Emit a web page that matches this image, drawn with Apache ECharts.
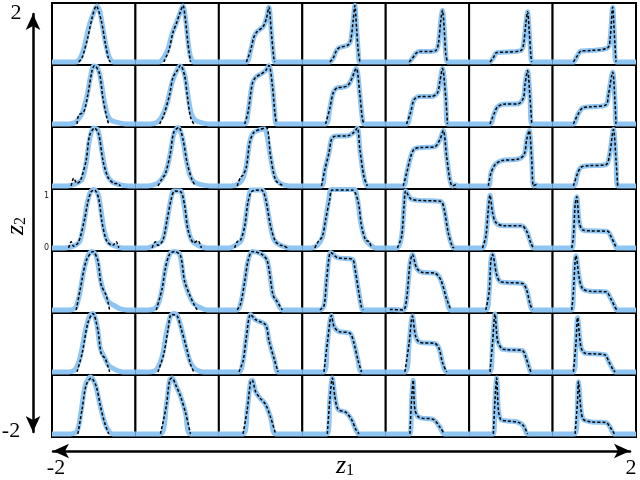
<!DOCTYPE html>
<html>
<head>
<meta charset="utf-8">
<script src="https://cdn.jsdelivr.net/npm/echarts@6/dist/echarts.min.js"></script>
<style>
  html, body { margin: 0; padding: 0; background: #fff; }
  #chart { width: 640px; height: 480px; }
</style>
</head>
<body>
<div id="chart"></div>
<script>
// panels: rows from z2 = 2 (top) to z2 = -2 (bottom), columns from z1 = -2 to z1 = 2
// each curve is a list of [x, density] points, x runs 0..1 across one panel

// dashed (target) curves, one array per row
var row1 = [
  [[0.32,0],[0.36,0.08],[0.43,0.48],[0.48,0.85],[0.53,1.08],[0.59,0.8],[0.64,0.35],[0.68,0.05],[0.70,0]],
  [[0.34,0],[0.40,0.22],[0.45,0.57],[0.49,0.74],[0.53,0.93],[0.57,1.09],[0.60,0.80],[0.63,0.35],[0.66,0]],
  [[0.33,0],[0.38,0.22],[0.42,0.48],[0.46,0.59],[0.53,0.68],[0.57,0.84],[0.60,1.06],[0.63,0.55],[0.66,0.05],[0.67,0]],
  [[0.33,0],[0.37,0.07],[0.41,0.22],[0.45,0.28],[0.50,0.30],[0.55,0.33],[0.58,0.41],[0.61,0.80],[0.63,1.09],[0.65,0.67],[0.67,0.22],[0.69,0]],
  [[0.28,0],[0.32,0.07],[0.36,0.16],[0.40,0.20],[0.50,0.20],[0.60,0.22],[0.63,0.34],[0.66,0.80],[0.68,1.0],[0.70,0.67],[0.72,0.15],[0.74,0]],
  [[0.25,0],[0.29,0.08],[0.33,0.18],[0.45,0.19],[0.62,0.22],[0.65,0.32],[0.68,0.75],[0.70,0.97],[0.72,0.6],[0.74,0.12],[0.75,0]],
  [[0.25,0],[0.29,0.1],[0.34,0.21],[0.45,0.22],[0.66,0.27],[0.69,0.45],[0.72,1.06],[0.74,0.55],[0.76,0]]
];
var row2 = [
  [[0.30,0],[0.32,0.17],[0.38,0.23],[0.43,0.57],[0.48,1.03],[0.51,1.13],[0.57,0.97],[0.61,0.5],[0.66,0.1],[0.68,0]],
  [[0.29,0],[0.34,0.17],[0.41,0.57],[0.45,0.9],[0.50,1.03],[0.54,1.13],[0.59,0.93],[0.62,0.57],[0.66,0.13],[0.70,0]],
  [[0.31,0],[0.35,0.23],[0.40,0.77],[0.44,0.9],[0.51,0.97],[0.56,1.03],[0.60,1.13],[0.64,0.77],[0.67,0.23],[0.69,0]],
  [[0.28,0],[0.33,0.3],[0.37,0.6],[0.42,0.7],[0.48,0.71],[0.55,0.75],[0.60,0.9],[0.63,1.03],[0.65,1.07],[0.69,0.57],[0.72,0.1],[0.74,0]],
  [[0.25,0],[0.30,0.23],[0.34,0.47],[0.41,0.53],[0.55,0.53],[0.62,0.6],[0.65,0.83],[0.68,1.07],[0.72,0.5],[0.74,0]],
  [[0.25,0],[0.30,0.2],[0.34,0.33],[0.41,0.38],[0.59,0.39],[0.65,0.5],[0.67,0.77],[0.70,1.03],[0.73,0.5],[0.75,0]],
  [[0.25,0],[0.30,0.17],[0.36,0.31],[0.45,0.33],[0.64,0.37],[0.67,0.57],[0.72,1.0],[0.75,0.37],[0.76,0]]
];
var row3 = [
  [[0.23,0],[0.26,0.15],[0.30,0.05],[0.34,0.1],[0.41,0.5],[0.45,0.97],[0.51,1.12],[0.56,1.0],[0.61,0.5],[0.67,0.17],[0.74,0.05],[0.79,0.04],[0.82,0]],
  [[0.27,0],[0.32,0.14],[0.36,0.24],[0.42,0.64],[0.46,1.04],[0.52,1.13],[0.57,0.9],[0.62,0.44],[0.68,0.11],[0.72,0]],
  [[0.22,0],[0.26,0.17],[0.29,0.21],[0.33,0.37],[0.37,0.84],[0.42,1.04],[0.49,1.09],[0.57,1.13],[0.62,0.57],[0.68,0.11],[0.74,0.03],[0.78,0]],
  [[0.23,0],[0.27,0.31],[0.32,0.64],[0.35,0.9],[0.39,0.96],[0.55,0.97],[0.62,1.04],[0.66,1.12],[0.69,0.71],[0.74,0.17],[0.78,0]],
  [[0.21,0],[0.25,0.24],[0.30,0.57],[0.34,0.71],[0.41,0.74],[0.59,0.76],[0.65,0.9],[0.69,1.07],[0.73,0.57],[0.77,0.11],[0.80,0],[0.84,0.02],[0.86,0]],
  [[0.23,0],[0.26,0.24],[0.31,0.41],[0.39,0.49],[0.59,0.52],[0.66,0.61],[0.69,0.9],[0.72,1.07],[0.75,0.51],[0.77,0],[0.80,0.02],[0.82,0]],
  [[0.25,0],[0.30,0.24],[0.34,0.36],[0.43,0.39],[0.64,0.41],[0.68,0.57],[0.73,1.09],[0.76,0.51],[0.78,0]]
];
var row4 = [
  [[0.20,0],[0.23,0.12],[0.26,0.03],[0.32,0.12],[0.39,0.55],[0.43,0.89],[0.47,1.09],[0.51,1.12],[0.56,0.95],[0.60,0.49],[0.66,0.12],[0.73,0.05],[0.77,0.12],[0.80,0]],
  [[0.20,0],[0.24,0.12],[0.27,0.05],[0.33,0.15],[0.38,0.55],[0.43,0.95],[0.47,1.1],[0.54,1.09],[0.59,0.82],[0.63,0.35],[0.70,0.1],[0.75,0.14],[0.79,0]],
  [[0.19,0],[0.22,0.12],[0.26,0.15],[0.31,0.42],[0.35,0.89],[0.40,1.1],[0.51,1.12],[0.56,0.95],[0.62,0.42],[0.68,0.12],[0.74,0.05],[0.78,0.04],[0.82,0]],
  [[0.15,0],[0.19,0.12],[0.24,0.22],[0.28,0.55],[0.33,0.95],[0.36,1.12],[0.60,1.12],[0.67,0.89],[0.71,0.42],[0.76,0.15],[0.80,0.12],[0.83,0]],
  [[0.14,0],[0.19,0.22],[0.22,0.82],[0.24,1.1],[0.30,0.95],[0.39,0.92],[0.66,0.9],[0.70,0.75],[0.75,0.29],[0.80,0.02],[0.82,0]],
  [[0.16,0],[0.20,0.22],[0.23,0.75],[0.25,1.02],[0.28,0.69],[0.32,0.49],[0.41,0.43],[0.63,0.43],[0.69,0.32],[0.74,0.09],[0.77,0]],
  [[0.23,0],[0.25,0.22],[0.27,0.82],[0.29,0.99],[0.32,0.49],[0.36,0.35],[0.45,0.33],[0.66,0.32],[0.70,0.22],[0.75,0.05],[0.77,0]]
];
var row5 = [
  [[0.29,0],[0.34,0.41],[0.41,0.95],[0.49,1.13],[0.55,0.95],[0.59,0.48],[0.65,0.28],[0.69,0]],
  [[0.25,0],[0.32,0.41],[0.36,0.81],[0.41,1.08],[0.47,1.13],[0.54,1.05],[0.59,0.55],[0.66,0.25],[0.71,0.08],[0.74,0]],
  [[0.22,0],[0.26,0.11],[0.31,0.55],[0.35,0.95],[0.40,1.13],[0.51,1.08],[0.58,0.95],[0.65,0.28],[0.69,0.18],[0.76,0]],
  [[0.21,0],[0.26,0.08],[0.29,0.55],[0.32,1.01],[0.34,1.11],[0.42,1.01],[0.60,0.98],[0.63,0.81],[0.67,0.41],[0.71,0.05],[0.73,0]],
  [[0.05,0.01],[0.21,0],[0.25,0.21],[0.29,0.88],[0.32,1.07],[0.37,0.81],[0.43,0.73],[0.59,0.71],[0.66,0.58],[0.73,0.21],[0.78,0]],
  [[0.20,0],[0.24,0.35],[0.26,0.95],[0.28,1.07],[0.33,0.68],[0.37,0.55],[0.45,0.53],[0.64,0.51],[0.69,0.38],[0.73,0.11],[0.76,0]],
  [[0.23,0],[0.25,0.35],[0.27,0.95],[0.28,1.05],[0.32,0.61],[0.36,0.41],[0.45,0.36],[0.64,0.35],[0.70,0.21],[0.75,0.05],[0.77,0]]
];
var row6 = [
  [[0.30,0],[0.36,0.35],[0.43,0.95],[0.49,1.13],[0.55,0.81],[0.59,0.35],[0.64,0.25],[0.69,0]],
  [[0.27,0],[0.34,0.35],[0.39,0.81],[0.43,1.11],[0.50,1.08],[0.54,0.88],[0.61,0.48],[0.66,0.15],[0.70,0]],
  [[0.24,0],[0.29,0.21],[0.33,0.68],[0.38,1.11],[0.44,1.01],[0.56,0.91],[0.60,0.61],[0.67,0.21],[0.71,0]],
  [[0.26,0],[0.30,0.55],[0.35,1.09],[0.38,0.88],[0.44,0.78],[0.57,0.75],[0.62,0.55],[0.67,0.21],[0.71,0]],
  [[0.23,0],[0.28,0.55],[0.32,1.08],[0.36,0.68],[0.41,0.57],[0.59,0.55],[0.64,0.45],[0.68,0.18],[0.73,0]],
  [[0.25,0],[0.28,0.55],[0.31,1.12],[0.34,0.61],[0.39,0.45],[0.45,0.43],[0.64,0.41],[0.68,0.28],[0.72,0.08],[0.74,0]],
  [[0.25,0],[0.28,0.55],[0.30,1.05],[0.34,0.48],[0.39,0.36],[0.50,0.35],[0.63,0.33],[0.67,0.21],[0.73,0.03],[0.75,0]]
];
var row7 = [
  [[0.31,0],[0.36,0.47],[0.41,0.95],[0.47,1.08],[0.53,0.92],[0.58,0.54],[0.63,0.22],[0.68,0]],
  [[0.30,0],[0.37,0.54],[0.41,1.04],[0.44,1.08],[0.49,0.92],[0.54,0.73],[0.60,0.41],[0.66,0]],
  [[0.29,0],[0.34,0.47],[0.38,1.01],[0.40,1.04],[0.44,0.82],[0.49,0.70],[0.56,0.57],[0.62,0.32],[0.68,0]],
  [[0.30,0],[0.33,0.66],[0.36,1.08],[0.39,0.73],[0.43,0.47],[0.52,0.42],[0.59,0.28],[0.64,0.09],[0.68,0]],
  [[0.29,0],[0.31,0.66],[0.33,1.04],[0.35,0.47],[0.40,0.32],[0.57,0.28],[0.65,0.13],[0.70,0]],
  [[0.29,0],[0.31,0.66],[0.33,1.08],[0.35,0.47],[0.38,0.28],[0.46,0.25],[0.58,0.23],[0.65,0.16],[0.70,0]],
  [[0.27,0],[0.30,0.66],[0.31,1.01],[0.34,0.47],[0.37,0.28],[0.47,0.23],[0.64,0.22],[0.69,0.13],[0.74,0]]
];

// blue (fit) curves where they differ from the dashed ones; null = same curve plus flat baseline
var row1Fit = [
  [[0,0],[0.28,0],[0.33,0.05],[0.38,0.25],[0.43,0.6],[0.46,0.78],[0.50,0.95],[0.54,1.08],[0.57,1.0],[0.61,0.65],[0.65,0.3],[0.69,0.08],[0.74,0],[1,0]],
  [[0,0],[0.28,0],[0.33,0.06],[0.39,0.25],[0.44,0.55],[0.49,0.75],[0.53,0.93],[0.57,1.08],[0.60,0.85],[0.63,0.4],[0.66,0.1],[0.70,0],[1,0]],
  null, null, null, null, null
];
var row2Fit = [
  [[0,0],[0.20,0],[0.27,0.02],[0.31,0.08],[0.36,0.2],[0.42,0.55],[0.46,0.9],[0.50,1.12],[0.54,1.1],[0.58,0.9],[0.62,0.5],[0.66,0.2],[0.70,0.08],[0.78,0.03],[0.88,0],[1,0]],
  [[0,0],[0.18,0],[0.26,0.03],[0.32,0.15],[0.38,0.4],[0.44,0.8],[0.50,1.05],[0.54,1.12],[0.59,0.95],[0.63,0.55],[0.67,0.2],[0.72,0.07],[0.80,0.02],[0.88,0],[1,0]],
  null, null, null, null, null
];
var row3Fit = [
  [[0,0],[0.18,0],[0.28,0.04],[0.36,0.12],[0.41,0.45],[0.45,0.9],[0.50,1.12],[0.55,1.08],[0.60,0.65],[0.65,0.25],[0.72,0.08],[0.82,0.02],[0.92,0],[1,0]],
  [[0,0],[0.15,0],[0.24,0.03],[0.31,0.12],[0.37,0.3],[0.42,0.65],[0.46,1.0],[0.51,1.13],[0.56,0.95],[0.61,0.5],[0.66,0.18],[0.72,0.06],[0.80,0.02],[0.90,0],[1,0]],
  [[0,0],[0.15,0],[0.24,0.05],[0.29,0.15],[0.33,0.4],[0.37,0.85],[0.41,1.02],[0.48,1.08],[0.55,1.1],[0.58,0.95],[0.62,0.55],[0.67,0.18],[0.73,0.05],[0.80,0.01],[0.85,0],[1,0]],
  null, null, null, null
];
var row4Fit = [
  [[0,0],[0.15,0],[0.25,0.03],[0.33,0.12],[0.38,0.45],[0.42,0.85],[0.46,1.08],[0.50,1.13],[0.55,1.05],[0.59,0.7],[0.63,0.3],[0.68,0.1],[0.75,0.04],[0.85,0],[1,0]],
  [[0,0],[0.13,0],[0.22,0.04],[0.32,0.14],[0.37,0.45],[0.42,0.9],[0.46,1.1],[0.54,1.1],[0.58,0.85],[0.62,0.45],[0.67,0.16],[0.74,0.06],[0.85,0],[1,0]],
  [[0,0],[0.12,0],[0.20,0.05],[0.27,0.15],[0.31,0.45],[0.35,0.9],[0.39,1.12],[0.52,1.12],[0.56,0.95],[0.61,0.5],[0.66,0.16],[0.74,0.05],[0.85,0],[1,0]],
  [[0,0],[0.10,0],[0.18,0.05],[0.24,0.2],[0.28,0.55],[0.32,0.95],[0.35,1.13],[0.62,1.13],[0.66,0.95],[0.70,0.5],[0.75,0.18],[0.80,0.08],[0.88,0],[1,0]],
  null, null, null
];
var row5Fit = [
  [[0,0],[0.20,0],[0.28,0.04],[0.33,0.3],[0.38,0.75],[0.43,1.05],[0.48,1.13],[0.53,1.05],[0.58,0.6],[0.62,0.35],[0.68,0.15],[0.75,0.08],[0.82,0.02],[0.90,0],[1,0]],
  [[0,0],[0.15,0],[0.24,0.03],[0.30,0.25],[0.36,0.8],[0.41,1.08],[0.46,1.13],[0.53,1.08],[0.58,0.6],[0.64,0.3],[0.70,0.12],[0.78,0.04],[0.86,0],[1,0]],
  null, null, null, null, null
];
var row6Fit = [
  [[0,0],[0.20,0],[0.28,0.05],[0.34,0.3],[0.40,0.8],[0.45,1.08],[0.49,1.13],[0.54,0.9],[0.58,0.45],[0.63,0.28],[0.68,0.12],[0.75,0.05],[0.85,0],[1,0]],
  [[0,0],[0.15,0],[0.25,0.04],[0.32,0.3],[0.37,0.75],[0.42,1.08],[0.46,1.13],[0.50,1.1],[0.55,0.85],[0.60,0.5],[0.66,0.18],[0.72,0.05],[0.82,0],[1,0]],
  null, null, null, null, null
];
var row7Fit = [
  [[0,0],[0.22,0],[0.30,0.05],[0.35,0.45],[0.40,0.95],[0.46,1.1],[0.52,0.95],[0.57,0.6],[0.62,0.28],[0.67,0.08],[0.73,0],[1,0]],
  null, null, null, null, null, null
];

var targets = [row1, row2, row3, row4, row5, row6, row7];
var fits = [row1Fit, row2Fit, row3Fit, row4Fit, row5Fit, row6Fit, row7Fit];

var myChart = echarts.init(document.getElementById('chart'));

var left0 = 52, top0 = 3;
var cellW = 584 / 7, cellH = 434 / 7;
var grids = [], xAxes = [], yAxes = [], series = [];

targets.forEach(function (row, r) {
  row.forEach(function (target, c) {
    var i = grids.length;
    grids.push({
      show: true,
      left: left0 + c * cellW,
      top: top0 + r * cellH,
      width: cellW,
      height: cellH,
      borderColor: '#000',
      borderWidth: 2,
      backgroundColor: '#fff'
    });
    xAxes.push({ gridIndex: i, type: 'value', min: 0, max: 1, show: false });
    // only the middle panel of the first column shows its 0 / 1 labels
    var labelled = r === 3 && c === 0;
    yAxes.push({
      gridIndex: i,
      type: 'value',
      min: -0.06,
      max: 1.14,
      show: labelled,
      axisLine: { show: false },
      axisTick: { show: false },
      splitLine: { show: false },
      axisLabel: { customValues: [0, 1], fontSize: 8, margin: 3, color: '#222', fontFamily: 'DejaVu Sans' }
    });
    var fit = fits[r][c] || [[0, 0]].concat(target, [[1, 0]]);
    series.push({
      type: 'line',
      xAxisIndex: i,
      yAxisIndex: i,
      data: fit,
      symbol: 'none',
      smooth: 0.3,
      lineStyle: { color: '#8ec5f2', width: 5 },
      z: 2
    });
    series.push({
      type: 'line',
      xAxisIndex: i,
      yAxisIndex: i,
      data: target,
      symbol: 'none',
      smooth: 0.3,
      lineStyle: { color: '#000', width: 1.5, type: [3, 2] },
      z: 3
    });
  });
});

// big double arrows for z1 (bottom) and z2 (left)
var n = grids.length;
grids.push({ left: 53, width: 577, top: 440, height: 11 });
xAxes.push({
  gridIndex: n, type: 'value', min: -2, max: 2, position: 'bottom',
  axisLine: { onZero: false, symbol: ['arrow', 'arrow'], symbolSize: [11, 16], lineStyle: { color: '#000', width: 2.5 } },
  axisTick: { show: false }, axisLabel: { show: false }, splitLine: { show: false }
});
yAxes.push({ gridIndex: n, type: 'value', show: false });

grids.push({ left: 33, width: 10, top: 14, height: 418 });
xAxes.push({ gridIndex: n + 1, type: 'value', show: false });
yAxes.push({
  gridIndex: n + 1, type: 'value', min: -2, max: 2, position: 'left',
  axisLine: { onZero: false, symbol: ['arrow', 'arrow'], symbolSize: [11, 16], lineStyle: { color: '#000', width: 2.5 } },
  axisTick: { show: false }, axisLabel: { show: false }, splitLine: { show: false }
});

var serif = 'Liberation Serif';
function label(text, x, y, size) {
  return {
    type: 'text', x: x, y: y, z: 100,
    style: { text: text, fontFamily: serif, fontSize: size, fill: '#000', textAlign: 'center', textVerticalAlign: 'middle' }
  };
}

var option = {
  animation: false,
  backgroundColor: '#fff',
  grid: grids,
  xAxis: xAxes,
  yAxis: yAxes,
  series: series,
  graphic: [
    label('2', 16, 13, 22),
    label('-2', 11, 431, 22),
    label('-2', 56, 468, 22),
    label('2', 631, 468, 22),
    {
      type: 'text', x: 345, y: 466, z: 100,
      style: {
        text: '{z|z}{s|1}', textAlign: 'center', textVerticalAlign: 'middle',
        rich: {
          z: { fontFamily: serif, fontStyle: 'italic', fontSize: 26, fill: '#000' },
          s: { fontFamily: serif, fontSize: 16, fill: '#000', padding: [10, 0, 0, 0] }
        }
      }
    },
    {
      type: 'text', x: 16, y: 226, z: 100, rotation: Math.PI / 2,
      style: {
        text: '{z|z}{s|2}', textAlign: 'center', textVerticalAlign: 'middle',
        rich: {
          z: { fontFamily: serif, fontStyle: 'italic', fontSize: 26, fill: '#000' },
          s: { fontFamily: serif, fontSize: 16, fill: '#000', padding: [10, 0, 0, 0] }
        }
      }
    }
  ]
};

myChart.setOption(option);
</script>
</body>
</html>
